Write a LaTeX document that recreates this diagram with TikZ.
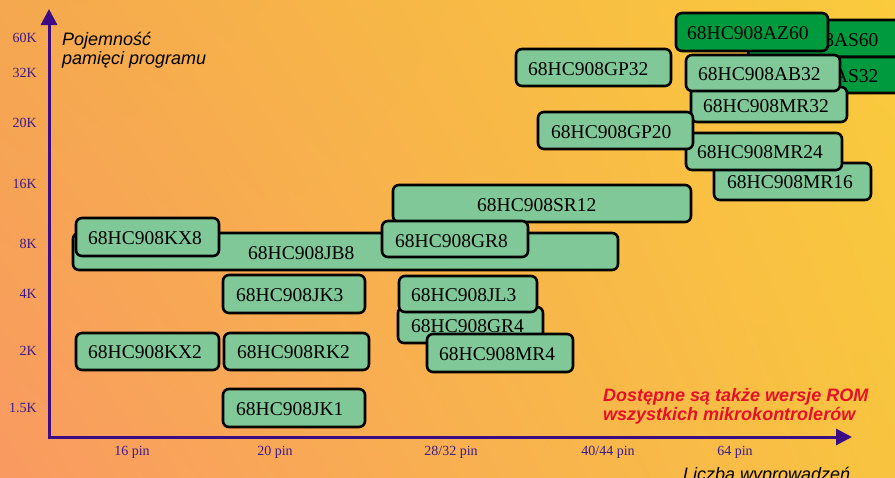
\documentclass[tikz,border=0pt]{standalone}
\usepackage{fontspec}
\setmainfont{Liberation Serif}
\newfontfamily\arialf{Liberation Sans}
\usetikzlibrary{arrows.meta,shadings}
\definecolor{chipg}{HTML}{80C898}
\definecolor{chipdg}{HTML}{009A3E}
\definecolor{axisp}{HTML}{3C0C84}
\definecolor{labp}{HTML}{3A1A8C}
\definecolor{romred}{HTML}{E5102A}
\definecolor{bgul}{HTML}{F5A84F}
\definecolor{bgur}{HTML}{FACB3C}
\definecolor{bgll}{HTML}{F99A62}
\definecolor{bglr}{HTML}{F8C440}
\tikzset{
  chipbox/.style={draw=black, line width=2.6pt, rounded corners=6pt, fill=chipg},
  darkbox/.style={chipbox, fill=chipdg},
  chiptext/.style={anchor=base west, inner sep=0pt, text=black, font=\fontsize{19.5}{20}\selectfont},
  ylab/.style={anchor=base east, inner sep=0pt, text=labp, font=\fontsize{14}{15}\selectfont},
  xlab/.style={anchor=base, inner sep=0pt, text=labp, font=\fontsize{14}{15}\selectfont},
  axtitle/.style={anchor=base west, inner sep=0pt, text=black, font=\arialf\itshape\fontsize{18}{19}\selectfont},
  romtext/.style={anchor=base west, inner sep=0pt, text=romred, font=\arialf\bfseries\itshape\fontsize{18}{19}\selectfont},
  axisline/.style={draw=axisp, line width=3pt, -{Triangle[length=16pt,width=16pt]}}
}
\newcommand{\mkchip}[9]{%
  \draw[#1] (#3,#4) rectangle (#5,#6);
  \node[chiptext] (#2) at (#7,#8) {#9};
}
\begin{document}
\begin{tikzpicture}[x=1pt,y=-1pt]
\useasboundingbox (0,0) rectangle (895,477);
\clip (0,0) rectangle (895,477);
\shade[upper left=bgul, upper right=bgur, lower left=bgll, lower right=bglr] (0,0) rectangle (895,477);

% axes
\coordinate (O) at (49,437);
\coordinate (ytip) at (49,9);
\coordinate (xtip) at (852,437);
\draw[axisline] (49,438.5) -- (ytip);
\draw[axisline] (47.5,437) -- (xtip);

% axis labels
\node[ylab] (l60) at (37,42) {60K};
\node[ylab] (l32) at (37,77) {32K};
\node[ylab] (l20) at (37,127) {20K};
\node[ylab] (l16) at (37,188) {16K};
\node[ylab] (l8) at (37,248) {8K};
\node[ylab] (l4) at (37,298) {4K};
\node[ylab] (l2) at (37,355) {2K};
\node[ylab] (l15) at (37,412) {1.5K};

\node[xlab] (p16) at (132,455) {16 pin};
\node[xlab] (p20) at (275,455) {20 pin};
\node[xlab] (p28) at (451,455) {28/32 pin};
\node[xlab] (p40) at (608,455) {40/44 pin};
\node[xlab] (p64) at (735,455) {64 pin};

\node[axtitle] (yt1) at (62,45) {Pojemność};
\node[axtitle] (yt2) at (62,64) {pamięci programu};
\node[axtitle] (xt) at (683,480) {Liczba wyprowadzeń};

\node[romtext] (rom1) at (603,401) {Dostępne są także wersje ROM};
\node[romtext] (rom2) at (603,420) {wszystkich mikrokontrolerów};

% chips (drawing order = stacking order)
\mkchip{darkbox}{as60}{748}{20}{910}{57}{758}{46}{68HC908AS60}
\mkchip{darkbox}{as32}{748}{57}{910}{93}{758}{82}{68HC908AS32}
\mkchip{darkbox}{az60}{676}{13}{828}{51}{687}{39}{68HC908AZ60}
\mkchip{chipbox}{mr32}{691}{87}{847}{122}{703}{112}{68HC908MR32}
\mkchip{chipbox}{ab32}{686}{55}{840}{91}{698}{80}{68HC908AB32}
\mkchip{chipbox}{gp32}{516}{49}{671}{86}{528}{75}{68HC908GP32}
\mkchip{chipbox}{mr16}{714}{163}{871}{200}{727}{188}{68HC908MR16}
\mkchip{chipbox}{mr24}{686}{133}{842}{170}{697}{158}{68HC908MR24}
\mkchip{chipbox}{gp20}{538}{112}{693}{149}{551}{138}{68HC908GP20}
\mkchip{chipbox}{sr12}{393}{185}{691}{222}{477}{211}{68HC908SR12}
\mkchip{chipbox}{jb8}{73}{233}{618}{270}{248}{259}{68HC908JB8}
\mkchip{chipbox}{kx8}{76}{218}{219}{256}{88}{244}{68HC908KX8}
\mkchip{chipbox}{gr8}{382}{221}{528}{257}{395}{247}{68HC908GR8}
\mkchip{chipbox}{jk3}{223}{275}{365}{313}{236}{301}{68HC908JK3}
\mkchip{chipbox}{gr4}{398}{307}{543}{343}{411}{332}{68HC908GR4}
\mkchip{chipbox}{jl3}{399}{276}{537}{312}{411}{301}{68HC908JL3}
\mkchip{chipbox}{mr4}{427}{334}{573}{372}{439}{360}{68HC908MR4}
\mkchip{chipbox}{kx2}{76}{333}{219}{370}{88}{358}{68HC908KX2}
\mkchip{chipbox}{rk2}{224}{333}{369}{370}{237}{358}{68HC908RK2}
\mkchip{chipbox}{jk1}{223}{389}{365}{427}{236}{415}{68HC908JK1}
\end{tikzpicture}
\end{document}
